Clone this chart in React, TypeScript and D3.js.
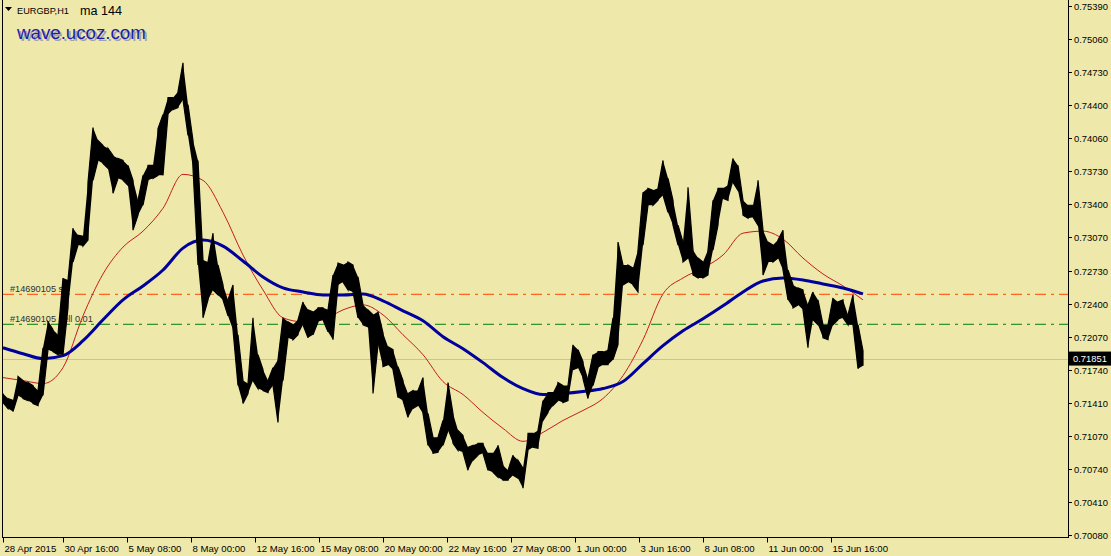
import { useMemo } from 'react'
import * as d3 from 'd3'

// EURGBP H1, sampled every 5 bars (high / low in price units)
const highs = [
  0.7150, 0.7145, 0.7143, 0.7167, 0.7163, 0.7161, 0.7158, 0.7153, 0.7196, 0.7222, 0.7214, 0.7209, 0.7266, 0.7264, 0.7316, 0.7309,
  0.7308, 0.7362, 0.7417, 0.7404, 0.7399, 0.7396, 0.7389, 0.7386, 0.7384, 0.7379, 0.7364, 0.7344, 0.7369, 0.7379, 0.7379, 0.7416,
  0.7430, 0.7447, 0.7447, 0.7453, 0.7482, 0.7440, 0.7404, 0.7384, 0.7284, 0.7282, 0.7311, 0.7279, 0.7259, 0.7244, 0.7259, 0.7209,
  0.7163, 0.7160, 0.7226, 0.7189, 0.7174, 0.7163, 0.7176, 0.7184, 0.7226, 0.7222, 0.7219, 0.7224, 0.7242, 0.7234, 0.7232, 0.7236,
  0.7236, 0.7234, 0.7269, 0.7281, 0.7279, 0.7282, 0.7279, 0.7267, 0.7239, 0.7234, 0.7229, 0.7232, 0.7211, 0.7197, 0.7194, 0.7177,
  0.7163, 0.7150, 0.7153, 0.7153, 0.7166, 0.7130, 0.7106, 0.7106, 0.7123, 0.7161, 0.7130, 0.7113, 0.7108, 0.7096, 0.7098, 0.7100,
  0.7100, 0.7090, 0.7090, 0.7098, 0.7078, 0.7073, 0.7088, 0.7083, 0.7075, 0.7110, 0.7110, 0.7113, 0.7143, 0.7151, 0.7151, 0.7161,
  0.7158, 0.7158, 0.7199, 0.7194, 0.7182, 0.7165, 0.7189, 0.7192, 0.7192, 0.7194, 0.7226, 0.7302, 0.7279, 0.7279, 0.7276, 0.7294,
  0.7352, 0.7356, 0.7354, 0.7356, 0.7384, 0.7366, 0.7344, 0.7319, 0.7302, 0.7357, 0.7294, 0.7286, 0.7282, 0.7294, 0.7344, 0.7356,
  0.7356, 0.7359, 0.7386, 0.7379, 0.7344, 0.7339, 0.7339, 0.7364, 0.7314, 0.7302, 0.7299, 0.7304, 0.7314, 0.7274, 0.7259, 0.7256,
  0.7254, 0.7239, 0.7252, 0.7244, 0.7219, 0.7219, 0.7246, 0.7242, 0.7244, 0.7229, 0.7249, 0.7219, 0.7193,
]
const lows = [
  0.7141, 0.7135, 0.7132, 0.7148, 0.7145, 0.7143, 0.7140, 0.7138, 0.7148, 0.7194, 0.7192, 0.7189, 0.7189, 0.7236, 0.7282, 0.7299,
  0.7298, 0.7304, 0.7364, 0.7384, 0.7381, 0.7376, 0.7351, 0.7366, 0.7364, 0.7359, 0.7314, 0.7329, 0.7339, 0.7364, 0.7366, 0.7369,
  0.7369, 0.7430, 0.7435, 0.7437, 0.7445, 0.7409, 0.7376, 0.7279, 0.7226, 0.7244, 0.7254, 0.7249, 0.7244, 0.7228, 0.7214, 0.7158,
  0.7140, 0.7150, 0.7163, 0.7155, 0.7153, 0.7151, 0.7158, 0.7121, 0.7163, 0.7206, 0.7204, 0.7209, 0.7219, 0.7206, 0.7209, 0.7222,
  0.7224, 0.7212, 0.7204, 0.7259, 0.7262, 0.7254, 0.7252, 0.7226, 0.7219, 0.7217, 0.7150, 0.7199, 0.7177, 0.7179, 0.7174, 0.7146,
  0.7143, 0.7126, 0.7135, 0.7138, 0.7130, 0.7098, 0.7090, 0.7091, 0.7098, 0.7113, 0.7100, 0.7093, 0.7091, 0.7073, 0.7083, 0.7088,
  0.7090, 0.7073, 0.7071, 0.7066, 0.7063, 0.7063, 0.7068, 0.7065, 0.7055, 0.7093, 0.7096, 0.7095, 0.7123, 0.7131, 0.7138, 0.7143,
  0.7141, 0.7143, 0.7174, 0.7176, 0.7165, 0.7145, 0.7158, 0.7176, 0.7179, 0.7179, 0.7184, 0.7199, 0.7259, 0.7262, 0.7259, 0.7252,
  0.7299, 0.7339, 0.7339, 0.7344, 0.7349, 0.7332, 0.7319, 0.7299, 0.7282, 0.7286, 0.7269, 0.7266, 0.7266, 0.7269, 0.7294, 0.7319,
  0.7346, 0.7344, 0.7362, 0.7354, 0.7329, 0.7326, 0.7327, 0.7319, 0.7269, 0.7282, 0.7282, 0.7286, 0.7274, 0.7244, 0.7236, 0.7239,
  0.7234, 0.7196, 0.7224, 0.7219, 0.7206, 0.7204, 0.7219, 0.7224, 0.7226, 0.7219, 0.7219, 0.7175, 0.7178,
]
const sampleStep = 5

// moving averages read every 20 bars
const maStep = 20
const maRed = [
  0.7166, 0.7163, 0.7160, 0.7176, 0.7228, 0.7270, 0.7297, 0.7313, 0.7336, 0.7370, 0.7364, 0.7332, 0.7289, 0.7254, 0.7226,
  0.7222, 0.7224, 0.7234, 0.7239, 0.7229, 0.7209, 0.7189, 0.7162, 0.7149, 0.7131, 0.7115, 0.7102, 0.7111, 0.7123, 0.7133,
  0.7145, 0.7168, 0.7204, 0.7250, 0.7266, 0.7276, 0.7289, 0.7311, 0.7313, 0.7305, 0.7286, 0.7270, 0.7258, 0.7244,
]
const maBlue = [
  0.7196, 0.7190, 0.7185, 0.7188, 0.7203, 0.7224, 0.7244, 0.7258, 0.7274, 0.7296, 0.7304, 0.7298, 0.7283, 0.7267, 0.7256,
  0.7252, 0.7249, 0.7249, 0.7250, 0.7243, 0.7233, 0.7223, 0.7207, 0.7195, 0.7181, 0.7166, 0.7155, 0.7149, 0.7150, 0.7152,
  0.7155, 0.7162, 0.7180, 0.7198, 0.7213, 0.7225, 0.7238, 0.7252, 0.7263, 0.7266, 0.7264, 0.7260, 0.7256, 0.7250,
]

const priceTicks = [
  0.7539, 0.7506, 0.7473, 0.744, 0.7406, 0.7373, 0.734, 0.7307, 0.7273, 0.724, 0.7207, 0.7174, 0.7141, 0.7107, 0.7074,
  0.7041, 0.7008,
]
const timeLabels = [
  '28 Apr 2015', '30 Apr 16:00', '5 May 08:00', '8 May 00:00', '12 May 16:00', '15 May 08:00', '20 May 00:00',
  '22 May 16:00', '27 May 08:00', '1 Jun 00:00', '3 Jun 16:00', '8 Jun 08:00', '11 Jun 00:00', '15 Jun 16:00',
]
const timeBars = [0, 60, 124, 188, 252, 316, 380, 444, 508, 572, 636, 700, 764, 828]

const orderSl = 0.72496
const orderEntry = 0.72195
const orderId = '#14690105'
const lastPrice = 0.71851

const W = 1111
const H = 556
const plot = { left: 3, right: 1068, top: 6, bottom: 535, axisY: 537.5 }
const bg = '#eee8aa'
const font = "'Liberation Sans', Arial, sans-serif"

export default function App() {
  const x = useMemo(() => d3.scaleLinear().domain([0, 1065]).range([plot.left, plot.right]), [])
  const y = useMemo(() => d3.scaleLinear().domain([0.7008, 0.7539]).range([plot.bottom, plot.top]), [])

  // zigzag through each sample's high and low
  const pricePath = useMemo(() => {
    const pts: [number, number][] = []
    highs.forEach((hi, i) => {
      const lo = lows[i]
      const xi = x(i * sampleStep)
      if (i % 2 === 0) {
        pts.push([xi, y(hi)], [xi, y(lo)])
      } else {
        pts.push([xi, y(lo)], [xi, y(hi)])
      }
    })
    return d3.line()(pts) ?? ''
  }, [x, y])

  // range band between highs and lows, fills in the dense 1px bars
  const rangeArea = useMemo(
    () =>
      d3
        .area<number>()
        .x((_, i) => x(i * sampleStep))
        .y0((_, i) => y(lows[i]))
        .y1((d) => y(d))(highs) ?? '',
    [x, y],
  )

  const maLine = d3
    .line<number>()
    .x((_, i) => x(i * maStep))
    .y((d) => y(d))
    .curve(d3.curveMonotoneX)

  const dashLine = '11 5 3 5'

  return (
    <div style={{ position: 'fixed', left: 0, top: 0 }}>
      <svg width={W} height={H} style={{ display: 'block', background: bg }} fontFamily={font}>
        <rect x={0} y={0} width={W} height={H} fill={bg} />

        {/* order lines */}
        <line x1={plot.left} x2={plot.right} y1={y(orderSl)} y2={y(orderSl)} stroke="#ff4500" strokeWidth={1} strokeDasharray={dashLine} />
        <line x1={plot.left} x2={plot.right} y1={y(orderEntry)} y2={y(orderEntry)} stroke="#008000" strokeWidth={1} strokeDasharray={dashLine} />
        <line x1={plot.left} x2={plot.right} y1={Math.round(y(lastPrice)) + 0.5} y2={Math.round(y(lastPrice)) + 0.5} stroke="#c0c0c0" strokeWidth={1} />

        <text x={10} y={y(orderSl) - 2} fontSize={9.2} fill="#303030">{`${orderId} sl`}</text>
        <text x={10} y={y(orderEntry) - 2} fontSize={9.2} fill="#303030">{`${orderId} sell 0.01`}</text>

        {/* moving averages */}
        <path d={maLine(maRed) ?? ''} fill="none" stroke="#c41e1e" strokeWidth={1} />
        <path d={maLine(maBlue) ?? ''} fill="none" stroke="#00009c" strokeWidth={3} />

        {/* price */}
        <path d={rangeArea} fill="#000" />
        <path d={pricePath} fill="none" stroke="#000" strokeWidth={1.2} strokeLinejoin="miter" />

        {/* frame */}
        <line x1={plot.left - 0.5} x2={plot.left - 0.5} y1={0} y2={plot.axisY} stroke="#000" />
        <line x1={plot.right + 0.5} x2={plot.right + 0.5} y1={0} y2={plot.axisY} stroke="#000" />
        <line x1={plot.left - 1} x2={plot.right + 1} y1={plot.axisY} y2={plot.axisY} stroke="#000" />

        {/* price axis */}
        {priceTicks.map((t) => (
          <g key={t} transform={`translate(0,${Math.round(y(t)) + 0.5})`}>
            <line x1={plot.right + 1} x2={plot.right + 4} stroke="#000" />
            <text x={plot.right + 6} dy="0.35em" fontSize={9.4} fill="#000">
              {t.toFixed(5)}
            </text>
          </g>
        ))}
        <rect x={plot.right + 1} y={y(lastPrice) - 7} width={W - plot.right - 1} height={14} fill="#000" />
        <text x={plot.right + 5} y={y(lastPrice)} dy="0.35em" fontSize={9.4} fill="#fff">
          {lastPrice.toFixed(5)}
        </text>

        {/* time axis */}
        {timeBars.map((b, i) => (
          <g key={b} transform={`translate(${Math.round(x(b)) + 0.5},0)`}>
            <line y1={plot.axisY} y2={plot.axisY + 5} stroke="#000" />
            <text x={1} y={552} fontSize={9.6} fill="#000">
              {timeLabels[i]}
            </text>
          </g>
        ))}

        {/* header */}
        <path d="M5,7 L12,7 L8.5,11 Z" fill="#000" />
        <text x={17} y={14} fontSize={9.2} fill="#000">EURGBP,H1</text>
        <text x={80} y={15} fontSize={12.6} fill="#000">ma 144</text>
        <text x={19} y={41} fontSize={18.7} fill="#a0a0b0">wave.ucoz.com</text>
        <text x={17} y={39} fontSize={18.7} fill="#1c1cb0">wave.ucoz.com</text>
      </svg>
    </div>
  )
}
